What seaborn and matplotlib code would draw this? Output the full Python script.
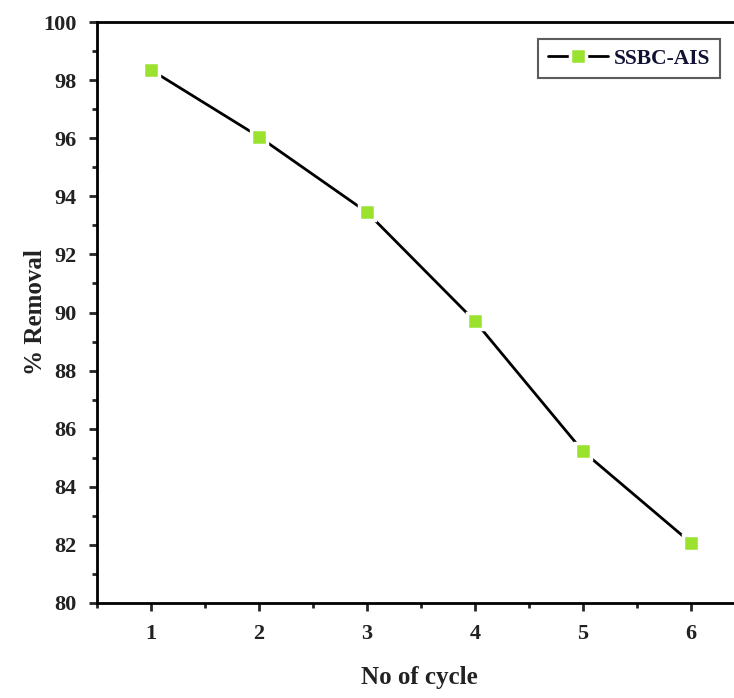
import matplotlib
matplotlib.use("Agg")
import matplotlib.pyplot as plt
import seaborn as sns
import pandas as pd
from matplotlib.ticker import MultipleLocator

cycles = [1, 2, 3, 4, 5, 6]
removal = [98.35, 96.05, 93.45, 89.7, 85.22, 82.07]
series_name = "SSBC-AIS"

sns.set_theme(style="ticks")
plt.rcParams['font.family'] = ['Liberation Serif', 'DejaVu Serif']
plt.rcParams['font.weight'] = 'bold'

df = pd.DataFrame({"No of cycle": cycles, "% Removal": removal, "series": series_name})

fig = plt.figure(figsize=(7.34, 6.98), dpi=100)
ax = fig.add_axes([97/734, 95/698, 648/734, 581/698])

sns.lineplot(data=df, x="No of cycle", y="% Removal", hue="series",
             palette=["black"], ax=ax, linewidth=2.0, marker="s",
             markersize=11, markerfacecolor="#9BE22E",
             markeredgecolor="white", markeredgewidth=2.5)

ax.set_xlim(0.5, 6.5)
ax.set_ylim(80, 100)
ax.xaxis.set_major_locator(MultipleLocator(1))
ax.xaxis.set_minor_locator(MultipleLocator(0.5))
ax.yaxis.set_major_locator(MultipleLocator(2))
ax.yaxis.set_minor_locator(MultipleLocator(1))
ax.tick_params(which="major", direction="out", length=6, width=2, labelsize=16,
               labelcolor="#222222")
ax.tick_params(axis="y", which="major", pad=9)
ax.tick_params(axis="x", which="major", pad=9)
ax.tick_params(which="minor", direction="out", length=3.5, width=2)
for lab in ax.get_xticklabels() + ax.get_yticklabels():
    lab.set_fontweight("bold")
for s in ax.spines.values():
    s.set_linewidth(2)
    s.set_color("black")

ax.set_xlabel("No of cycle", fontsize=18, fontweight="bold", color="#222222")
ax.set_ylabel("% Removal", fontsize=18, fontweight="bold", color="#222222")
ax.xaxis.set_label_coords(0.498, -0.108)
ax.yaxis.set_label_coords(-0.077, 0.5)

leg = ax.legend(loc="upper right", bbox_to_anchor=(0.961, 0.971), fontsize=15.5,
                frameon=True, fancybox=False, edgecolor="#333333",
                handlelength=2.8, borderpad=0.45, handletextpad=0.25,
                borderaxespad=0)
leg.get_frame().set_linewidth(1.5)
for t in leg.get_texts():
    t.set_fontweight("bold")
    t.set_color("#111133")

fig.savefig("out.png", dpi=100)
